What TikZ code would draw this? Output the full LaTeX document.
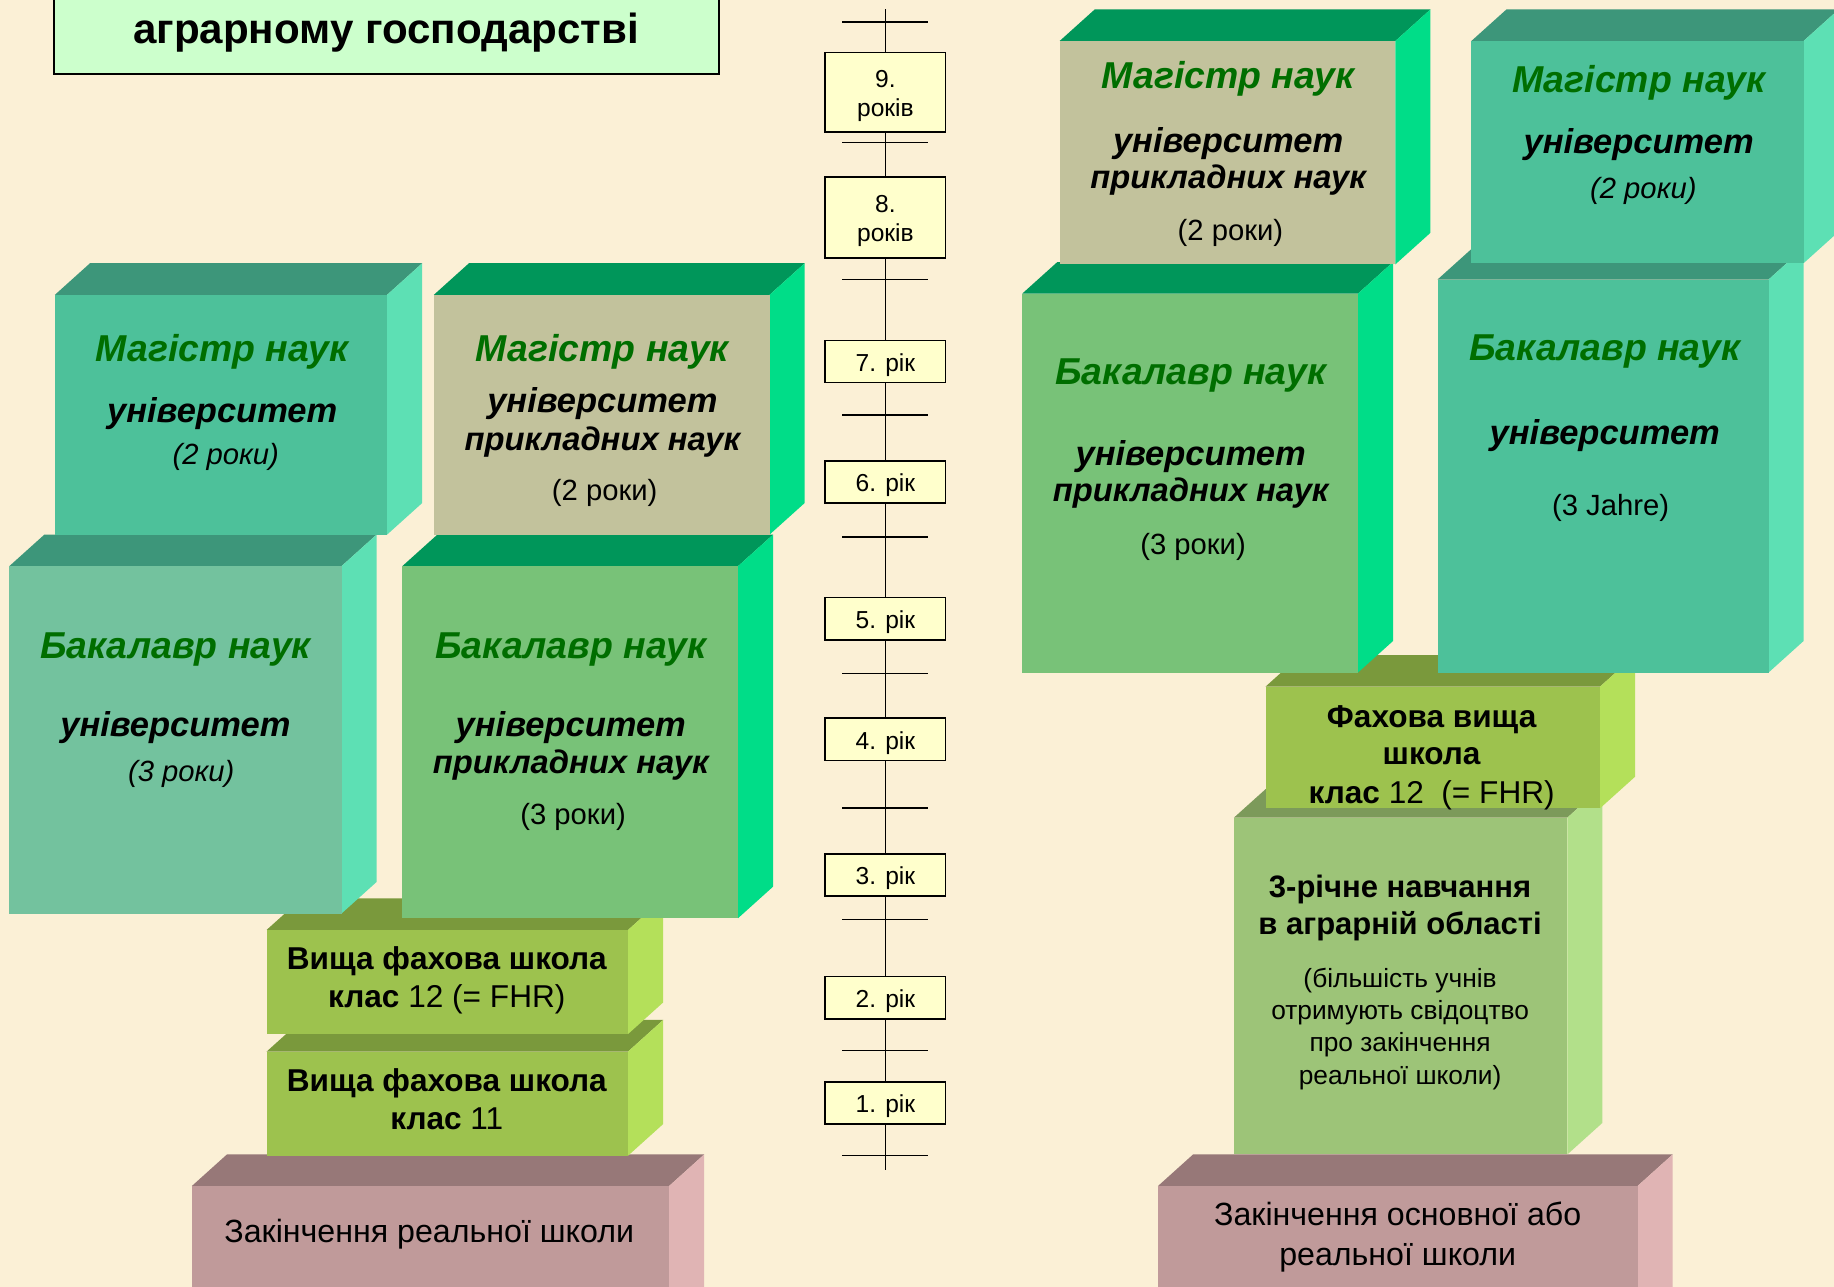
\documentclass[tikz,border=0pt]{standalone}
\usepackage{fontspec}
\setmainfont{Liberation Sans}
\usetikzlibrary{positioning}

\definecolor{paper}{HTML}{FBF0D6}
\definecolor{titlegreen}{HTML}{CCFFCC}
\definecolor{yearyellow}{HTML}{FFFFCC}
\definecolor{headgreen}{HTML}{006E00}
\definecolor{tealfront}{HTML}{4DC19A}
\definecolor{tealpale}{HTML}{73C29E}
\definecolor{tealtop}{HTML}{3D967A}
\definecolor{tealside}{HTML}{5DE0B4}
\definecolor{khaki}{HTML}{C2C29C}
\definecolor{grassfront}{HTML}{78C278}
\definecolor{grasstop}{HTML}{00965A}
\definecolor{grassside}{HTML}{00DD88}
\definecolor{olivefront}{HTML}{9DC24E}
\definecolor{olivetop}{HTML}{7A993C}
\definecolor{oliveside}{HTML}{B4E05A}
\definecolor{limefront}{HTML}{9DC478}
\definecolor{limetop}{HTML}{7C9A5A}
\definecolor{limeside}{HTML}{B2E08A}
\definecolor{rosefront}{HTML}{C09A9A}
\definecolor{rosetop}{HTML}{977878}
\definecolor{roseside}{HTML}{E0B4B4}

% block: x1 y1 x2 y2 front top side
\newcommand{\block}[7]{%
  \fill[#6] (#1,#2) -- (#1+30,#2-27) -- (#3+30,#2-27) -- (#3,#2) -- cycle;
  \fill[#7] (#3,#2) -- (#3+30,#2-27) -- (#3+30,#4-27) -- (#3,#4) -- cycle;
  \fill[#5] (#1,#2) rectangle (#3,#4);
}
\newcommand{\low}[1]{\raisebox{-3pt}[\height][\depth]{#1}}

\tikzset{
  txt/.style={anchor=base, inner sep=0pt},
  mag/.style={txt, text=headgreen, font=\fontsize{32}{37}\selectfont\bfseries\itshape},
  uni/.style={txt, font=\fontsize{29.5}{35}\selectfont\bfseries\itshape},
  appl/.style={txt, font=\fontsize{28}{33}\selectfont\bfseries\itshape},
  yrs/.style={txt, font=\fontsize{25}{30}\selectfont\itshape},
  yrsup/.style={txt, font=\fontsize{25}{30}\selectfont},
  school/.style={txt, font=\fontsize{27}{32}\selectfont},
  small/.style={txt, font=\fontsize{22.5}{26}\selectfont},
  yearbox/.style={draw=black, line width=1.3pt, fill=yearyellow, minimum width=103pt,
    inner sep=0pt, align=center, font=\fontsize{21}{25}\selectfont}
}

\begin{document}
\begin{tikzpicture}[x=1pt,y=-1pt]
  \fill[paper] (0,0) rectangle (1568,1100);
  \useasboundingbox (0,0) rectangle (1568,1100);

  % title
  \filldraw[fill=titlegreen, draw=black, line width=1.5pt] (46,-40) rectangle (615,63);
  \node[txt, font=\fontsize{36}{42}\selectfont\bfseries] (title) at (330,37) {аграрному господарстві};

  % left column
  \block{164}{1014}{572}{1130}{rosefront}{rosetop}{roseside}
  \block{228}{899}{537}{988}{olivefront}{olivetop}{oliveside}
  \block{228}{795}{537}{884}{olivefront}{olivetop}{oliveside}
  \block{8}{484}{292}{781}{tealpale}{tealtop}{tealside}
  \block{344}{484}{631}{785}{grassfront}{grasstop}{grassside}
  \block{47}{252}{331}{457}{tealfront}{tealtop}{tealside}
  \block{371}{252}{658}{457}{khaki}{grasstop}{grassside}

  \node[mag] (m1) at (190,309) {Магістр наук};
  \node[uni] (m1u) at (190,361) {університет};
  \node[yrs] (m1y) at (193,397) {(2 роки)};

  \node[mag] (m2) at (515,309) {Магістр наук};
  \node[uni] (m2u) at (515,353) {університет};
  \node[appl] (m2p) at (515,385) {прикладних наук};
  \node[yrsup] (m2y) at (517,428) {(2 роки)};

  \node[mag] (b1) at (150,563) {Бакалавр наук};
  \node[uni] (b1u) at (150,630) {університет};
  \node[yrs] (b1y) at (155,668) {(3 роки)};

  \node[mag] (b2) at (488,563) {Бакалавр наук};
  \node[uni] (b2u) at (488,630) {університет};
  \node[appl] (b2p) at (488,661) {прикладних наук};
  \node[yrsup] (b2y) at (490,705) {(3 роки)};

  \node[school] (v12) at (382,829) {\bfseries Вища фахова школа};
  \node[school] (v12k) at (382,861) {\bfseries клас\mdseries{} 12 (= FHR)};
  \node[school] (v11) at (382,933) {\bfseries Вища фахова школа};
  \node[school] (v11k) at (382,966) {\bfseries клас\mdseries{} 11};
  \node[school, font=\fontsize{27.5}{32}\selectfont] (rl) at (367,1062) {Закінчення реальної школи};

  % right column
  \block{990}{1014}{1400}{1130}{rosefront}{rosetop}{roseside}
  \block{1055}{699}{1340}{987}{limefront}{limetop}{limeside}
  \block{1082}{587}{1368}{691}{olivefront}{olivetop}{oliveside}
  \block{874}{251}{1161}{575}{grassfront}{grasstop}{grassside}
  \block{1229}{239}{1512}{575}{tealfront}{tealtop}{tealside}
  \block{906}{35}{1193}{226}{khaki}{grasstop}{grassside}
  \block{1258}{35}{1542}{225}{tealfront}{tealtop}{tealside}

  \node[mag] (m3) at (1050,76) {Магістр наук};
  \node[uni] (m3u) at (1050,130) {університет};
  \node[appl] (m3p) at (1050,161) {прикладних наук};
  \node[yrsup] (m3y) at (1052,206) {(2 роки)};

  \node[mag] (m4) at (1401,79) {Магістр наук};
  \node[uni] (m4u) at (1401,131) {університет};
  \node[yrs] (m4y) at (1405,170) {(2 роки)};

  \node[mag] (b3) at (1018,329) {Бакалавр наук};
  \node[uni] (b3u) at (1018,398) {університет};
  \node[appl] (b3p) at (1018,429) {прикладних наук};
  \node[yrsup] (b3y) at (1020,474) {(3 роки)};

  \node[mag] (b4) at (1372,308) {Бакалавр наук};
  \node[uni] (b4u) at (1372,380) {університет};
  \node[yrsup] (b4y) at (1377,441) {(3 Jahre)};

  \node[school] (f1) at (1224,622) {\bfseries Фахова вища};
  \node[school] (f2) at (1224,654) {\bfseries школа};
  \node[school] (f3) at (1224,687) {\bfseries клас\mdseries{} 12\ \ (= FHR)};

  \node[school, font=\fontsize{26.5}{31}\selectfont\bfseries] (t1) at (1197,767) {3-річне навчання};
  \node[school, font=\fontsize{26.5}{31}\selectfont\bfseries] (t2) at (1197,799) {в аграрній області};
  \node[small] (t3) at (1197,844) {(більшість учнів};
  \node[small] (t4) at (1197,872) {отримують свідоцтво};
  \node[small] (t5) at (1197,899) {про закінчення};
  \node[small] (t6) at (1197,927) {реальної школи)};

  \node[school, font=\fontsize{27.5}{32}\selectfont] (rr1) at (1195,1048) {Закінчення основної або};
  \node[school, font=\fontsize{27.5}{32}\selectfont] (rr2) at (1195,1082) {реальної школи};

  % time line
  \coordinate (ttop) at (757,8);
  \coordinate (tbot) at (757,1000);
  \draw[line width=1.3pt] (ttop) -- (tbot);
  \foreach \t in {19,122,239,355,459,576,691,786,898,988}
    \draw[line width=1.3pt] (720,\t) -- (793,\t);

  \node[yearbox, minimum height=68pt] (y9) at (757,79) {\low{9.}\\\low{років}};
  \node[yearbox, minimum height=69pt] (y8) at (757,186) {\low{8.}\\\low{років}};
  \node[yearbox, minimum height=36pt] (y7) at (757,309) {\low{7. рік}};
  \node[yearbox, minimum height=36pt] (y6) at (757,412) {\low{6. рік}};
  \node[yearbox, minimum height=36pt] (y5) at (757,529) {\low{5. рік}};
  \node[yearbox, minimum height=36pt] (y4) at (757,632) {\low{4. рік}};
  \node[yearbox, minimum height=36pt] (y3) at (757,748) {\low{3. рік}};
  \node[yearbox, minimum height=36pt] (y2) at (757,853) {\low{2. рік}};
  \node[yearbox, minimum height=36pt] (y1) at (757,943) {\low{1. рік}};
\end{tikzpicture}
\end{document}
